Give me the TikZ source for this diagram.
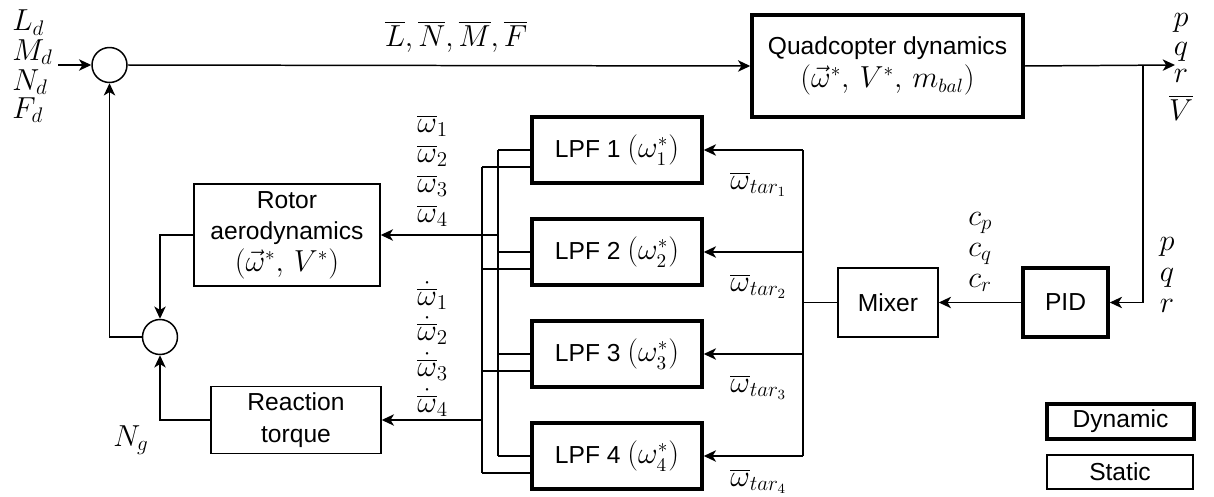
\documentclass[tikz,border=0pt]{standalone}
\usepackage{fontspec}
\setsansfont{Liberation Sans}
\usetikzlibrary{arrows.meta}
\begin{document}
\begin{tikzpicture}[x=0.02cm,y=-0.02cm,
  lab/.style={anchor=base, inner sep=0pt, font=\fontsize{16.5}{19}\selectfont},
  labw/.style={lab, anchor=base west},
  thinbox/.style={draw, line width=0.85pt, align=center, inner sep=0pt,
    font=\sffamily\fontsize{14}{18}\selectfont},
  thickbox/.style={thinbox, line width=2pt},
  sumnode/.style={draw, circle, line width=0.85pt, minimum size=0.7cm, inner sep=0pt},
  wire/.style={line width=0.85pt},
  conn/.style={wire, -{Stealth[length=7pt,width=6.5pt,inset=2pt]}}
]
\useasboundingbox (0,0) rectangle (1214,497);
\newcommand{\bm}[1]{{\fontsize{16}{18}\selectfont$#1$}}

% blocks
\node[sumnode] (S1) at (109.5,65) {};
\node[sumnode] (S2) at (160,337) {};
\node[thickbox, minimum width=5.42cm, minimum height=2.04cm] (QD) at (887.5,66)
  {Quadcopter dynamics\\[1pt] \bm{(\vec{\omega}^{*},\, V^{*},\, m_{bal})}};
\node[thickbox, minimum width=3.4cm, minimum height=1.32cm] (L1) at (617,150) {LPF 1 \bm{(\omega_1^{*})}};
\node[thickbox, minimum width=3.4cm, minimum height=1.32cm] (L2) at (617,252) {LPF 2 \bm{(\omega_2^{*})}};
\node[thickbox, minimum width=3.4cm, minimum height=1.32cm] (L3) at (617,354) {LPF 3 \bm{(\omega_3^{*})}};
\node[thickbox, minimum width=3.4cm, minimum height=1.32cm] (L4) at (617,456) {LPF 4 \bm{(\omega_4^{*})}};
\node[thinbox, minimum width=3.72cm, minimum height=2.04cm] (RA) at (287,235)
  {Rotor\\ aerodynamics\\ \bm{(\vec{\omega}^{*},\, V^{*})}};
\node[thinbox, minimum width=3.4cm, minimum height=1.34cm] (RT) at (296,420)
  {Reaction\\ torque};
\node[thinbox, minimum width=2cm, minimum height=1.38cm] (MX) at (888,302.5) {Mixer};
\node[thickbox, minimum width=1.7cm, minimum height=1.38cm] (PID) at (1065.5,302.5) {PID};
\node[thickbox, minimum width=2.94cm, minimum height=0.7cm] (DY) at (1120.5,421.5) {Dynamic};
\node[thinbox, minimum width=2.92cm, minimum height=0.68cm] (ST) at (1120,472) {Static};

% helper coordinates
\coordinate (in) at (58,65);
\coordinate (out) at (1175,65);
\coordinate (br) at (1143,65);
\coordinate (mb) at (803,302.5);
\coordinate (bu) at (498,0);
\coordinate (bd) at (482,0);
\foreach \n in {L1,L2,L3,L4}{
  \coordinate (\n-lo) at ([yshift=-0.34cm]\n.west);
}

% main path
\draw[conn] (in) -- (S1.west);
\draw[conn] (S1.east) -- (QD.west);
\draw[conn] (QD.east) -- (out);
\draw[conn] (br) |- (PID.east);
\draw[conn] (PID.west) -- (MX.east);
\draw[wire] (MX.west) -- (mb);
\draw[wire] (mb |- L1.east) -- (mb |- L4.east);
\foreach \n in {L1,L2,L3,L4}{
  \draw[conn] (mb |- \n.east) -- (\n.east);
  \draw[wire] (\n.west) -- (bu |- \n.west);
  \draw[wire] (\n-lo) -- (bd |- \n-lo);
}
\draw[wire] (bu |- L1.west) -- (bu |- L4.west);
\draw[wire] (bd |- L1-lo) -- (bd |- L4-lo);
\draw[conn] (bu |- RA.east) -- (RA.east);
\draw[conn] (bd |- RT.east) -- (RT.east);
\draw[conn] (RA.west) -| (S2.north);
\draw[conn] (RT.west) -| (S2.south);
\draw[conn] (S2.west) -| (S1.south);

% labels
\node[labw] (ld) at (12,31) {$L_d$};
\node[labw] (md) at (12,60) {$M_d$};
\node[labw] (nd) at (12,90) {$N_d$};
\node[labw] (fd) at (12,118) {$F_d$};
\node[lab, font=\fontsize{17}{19}\selectfont] (fm) at (456,46) {$\overline{L}, \overline{N}, \overline{M}, \overline{F}$};
\node[lab] (op) at (1181,27) {$p$};
\node[lab] (oq) at (1181,55) {$q$};
\node[lab] (or) at (1181,82) {$r$};
\node[lab] (ov) at (1181,120) {$\overline{V}$};
\node[labw] (w1) at (417,132) {$\overline{\omega}_1$};
\node[labw] (w2) at (417,162) {$\overline{\omega}_2$};
\node[labw] (w3) at (417,192) {$\overline{\omega}_3$};
\node[labw] (w4) at (417,222) {$\overline{\omega}_4$};
\node[labw] (d1) at (417,305) {$\dot{\overline{\omega}}_1$};
\node[labw] (d2) at (417,340) {$\dot{\overline{\omega}}_2$};
\node[labw] (d3) at (417,376) {$\dot{\overline{\omega}}_3$};
\node[labw] (d4) at (417,412) {$\dot{\overline{\omega}}_4$};
\node[labw] (t1) at (730,189) {$\overline{\omega}_{tar_1}$};
\node[labw] (t2) at (730,291) {$\overline{\omega}_{tar_2}$};
\node[labw] (t3) at (730,392) {$\overline{\omega}_{tar_3}$};
\node[labw] (t4) at (730,486) {$\overline{\omega}_{tar_4}$};
\node[labw] (cp) at (968,225) {$c_p$};
\node[labw] (cq) at (968,256) {$c_q$};
\node[labw] (cr) at (968,287) {$c_r$};
\node[lab] (pp) at (1167,250) {$p$};
\node[lab] (pq) at (1167,281) {$q$};
\node[lab] (pr) at (1167,312) {$r$};
\node[labw] (ng) at (113,446) {$N_g$};
\end{tikzpicture}
\end{document}
